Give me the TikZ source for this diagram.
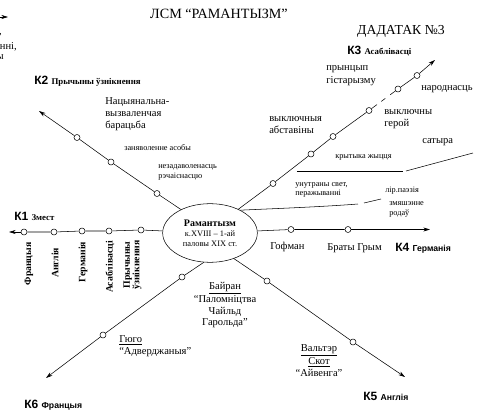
\documentclass[tikz,border=0pt]{standalone}
\usepackage{fontspec}
\setmainfont{Liberation Serif}
\setsansfont{Liberation Sans}
\usepackage{tikz}
\usetikzlibrary{shapes}
\usetikzlibrary{arrows.meta}

\newcommand{\txtN}{\fontsize{7.9}{9}\selectfont}
\newcommand{\txtS}{\fontsize{6.2}{7.2}\selectfont}
\newcommand{\klab}{\sffamily\bfseries\fontsize{9}{10}\selectfont}
\newcommand{\ksub}{\rmfamily\bfseries\fontsize{6.6}{7.5}\selectfont}
\newcommand{\ksubsf}{\sffamily\bfseries\fontsize{6.5}{7.5}\selectfont}

\begin{document}
\begin{tikzpicture}[x=0.75pt,y=0.75pt,yscale=-1,xscale=1,
    ring/.style={circle,draw,fill=white,inner sep=0pt,minimum size=4.5pt},
    arr/.style={-{Stealth[length=5pt,width=3pt]}},
    txt/.style={inner sep=0.75pt,anchor=west,align=left,font=\txtN},
    stxt/.style={txt,font=\txtS},
    vlab/.style={rotate=90,inner sep=0pt,align=center,font=\bfseries\fontsize{7.3}{7.2}\selectfont}]
\useasboundingbox (0,0) rectangle (480,410);

%Shape: Ellipse
\node [draw,ellipse,minimum width=71pt,minimum height=44pt,inner sep=0pt,align=center,font=\fontsize{6.3}{7.5}\selectfont] (rom) at (210,233)
    {{\bfseries\fontsize{7.5}{7.5}\selectfont Рамантызм}\\к.XVIII -- 1-ай\\паловы XIX ст.};

%Shape: Circles K1
\node [ring] (k1a) at (141,230) {};
\node [ring] (k1b) at (109,231) {};
\node [ring] (k1c) at (82,231) {};
\node [ring] (k1d) at (54,232) {};
\node [ring] (k1e) at (24,232) {};
\coordinate (k1tip) at (9,232);
%Shape: Circles K2
\node [ring] (k2a) at (157,193.5) {};
\node [ring] (k2b) at (111,162) {};
\node [ring] (k2c) at (77,137.5) {};
\coordinate (k2tip) at (39,111);
%Shape: Circles K3
\node [ring] (k3a) at (273,183.5) {};
\node [ring] (k3b) at (311,154) {};
\node [ring] (k3c) at (333,136.5) {};
\node [ring] (k3d) at (369,110.5) {};
\node [ring] (k3e) at (398,89) {};
\node [ring] (k3f) at (417,75.5) {};
\coordinate (k3tip) at (435,60);
%Shape: Circles K4
\node [ring] (k4a) at (291,229.5) {};
\node [ring] (k4b) at (348,229.5) {};
\coordinate (k4tip) at (430,229.5);
%Shape: Circles K5
\node [ring] (k5a) at (267,281) {};
\node [ring] (k5b) at (353,342) {};
\coordinate (k5tip) at (405,377);
%Shape: Circles K6
\node [ring] (k6a) at (182,277) {};
\node [ring] (k6b) at (103,335) {};
\coordinate (k6tip) at (46,378);

%Straight Lines
\draw (rom) -- (k1a) -- (k1b) -- (k1c) -- (k1d) -- (k1e);
\draw [arr] (k1e) -- (k1tip);
\draw (rom.141) -- (k2a) -- (k2b) -- (k2c);
\draw [arr] (k2c) -- (k2tip);
\draw (rom.40) -- (k3a) -- (k3b) -- (k3c) -- (k3d);
\draw [dash pattern=on 5pt off 4pt on 3.75pt off 4.6pt on 10pt] (k3d) -- (k3e);
\draw (k3e) -- (k3f);
\draw [arr] (k3f) -- (k3tip);
\draw (rom) -- (k4a) -- (k4b);
\draw [arr] (k4b) -- (k4tip);
\draw (rom.313) -- (k5a) -- (k5b);
\draw [arr] (k5b) -- (k5tip);
\draw (rom.258) -- (k6a) -- (k6b);
\draw [arr] (k6b) -- (k6tip);

%Curve Lines
\coordinate (cvend) at (358,204);
\draw (rom.37) .. controls (265,209) and (320,207) .. (cvend);
\coordinate (sega) at (364,203);
\coordinate (segb) at (381,199);
\draw (sega) -- (segb);
%Straight Lines (divider)
\coordinate (hla) at (297,171);
\coordinate (hlb) at (403,171);
\coordinate (hlc) at (406,171);
\coordinate (hld) at (473,153);
\draw (hla) -- (hlb);
\draw (hlc) -- (hld);
%Straight Lines (top left)
\coordinate (tla) at (-20,17);
\coordinate (tlb) at (8,17);
\draw [arr] (tla) -- (tlb);

% Text Node
\node [inner sep=0pt,font=\fontsize{10.6}{12}\selectfont] (title) at (219,14) {ЛСМ “РАМАНТЫЗМ”};
% Text Node
\node [inner sep=0pt,font=\fontsize{10.3}{12}\selectfont] (annex) at (401,31) {ДАДАТАК №3};
% Text Node
\node [anchor=east,inner sep=0pt,font=\txtN] (frga) at (2,35) {,};
\node [anchor=east,inner sep=0pt,font=\txtN] (frgb) at (17,47) {нні,};
\node [anchor=east,inner sep=0pt,font=\txtN] (frgc) at (4,57) {ы};

% Text Node
\node [txt] (k1lab) at (13,216) {\klab К1 \ksub Змест};
\node [txt] (k2lab) at (33,81) {\klab К2 \ksub Прычыны ўзнікнення};
\node [txt] (k3lab) at (346,51) {\klab К3 \ksub Асаблівасці};
\node [txt] (k4lab) at (394,248) {\klab К4 \ksubsf Германія};
\node [txt] (k5lab) at (362,396) {\klab К5 \ksubsf Англія};
\node [txt] (k6lab) at (23,405) {\klab К6 \ksubsf Францыя};

% Text Node
\node [vlab] (vfra) at (29,264) {Францыя};
\node [vlab] (veng) at (55,263) {Англія};
\node [vlab] (vger) at (83,262) {Германія};
\node [vlab] (vfeat) at (110,267) {Асаблівасці};
\node [vlab] (vcaus) at (132.5,265) {Прычыны\\ўзнікнення};

% Text Node
\node [txt] (nat) at (104,114) {Нацыянальна-\\вызваленчая\\барацьба};
\node [stxt] (ensl) at (123,148) {заняволенне асобы};
\node [stxt] (disc) at (157,172.5) {незадаволенасць\\рэчаіснасцю};

% Text Node
\node [txt,font=\fontsize{7.9}{9.75}\selectfont] (hist) at (325,75.5) {прынцып\\гістарызму};
\node [txt] (folk) at (420,89) {народнасць};
\node [txt] (excs) at (268,125) {выключныя\\абставіны};
\node [txt] (exch) at (383,119) {выключны\\герой};
\node [txt] (sat) at (421,142) {сатыра};
\node [stxt] (crit) at (334,157) {крытыка жыцця};
\node [stxt] (inner) at (294,190) {унутраны свет,\\перажыванні};
\node [stxt] (lyr) at (384,191) {лір.паэзія};
\node [stxt] (mix) at (388,209.5) {змяшэнне\\родаў};

% Text Node
\node [txt] (hof) at (269,247) {Гофман};
\node [txt] (grim) at (326,248) {Браты Грым};
\node [txt,anchor=center,align=center,font=\fontsize{7.9}{8.8}\selectfont] (byr) at (225,305) {\underline{Байран}\\“Паломніцтва\\Чайльд\\Гарольда”};
\node [txt,font=\fontsize{7.9}{9}\selectfont] (hugo) at (118,346) {\underline{Гюго}\\“Адверджаныя”};
\node [txt,anchor=center,align=center,font=\fontsize{7.9}{8.6}\selectfont] (scott) at (319,360.5) {\underline{Вальтэр}\\\underline{Скот}\\“Айвенга”};

\end{tikzpicture}
\end{document}
